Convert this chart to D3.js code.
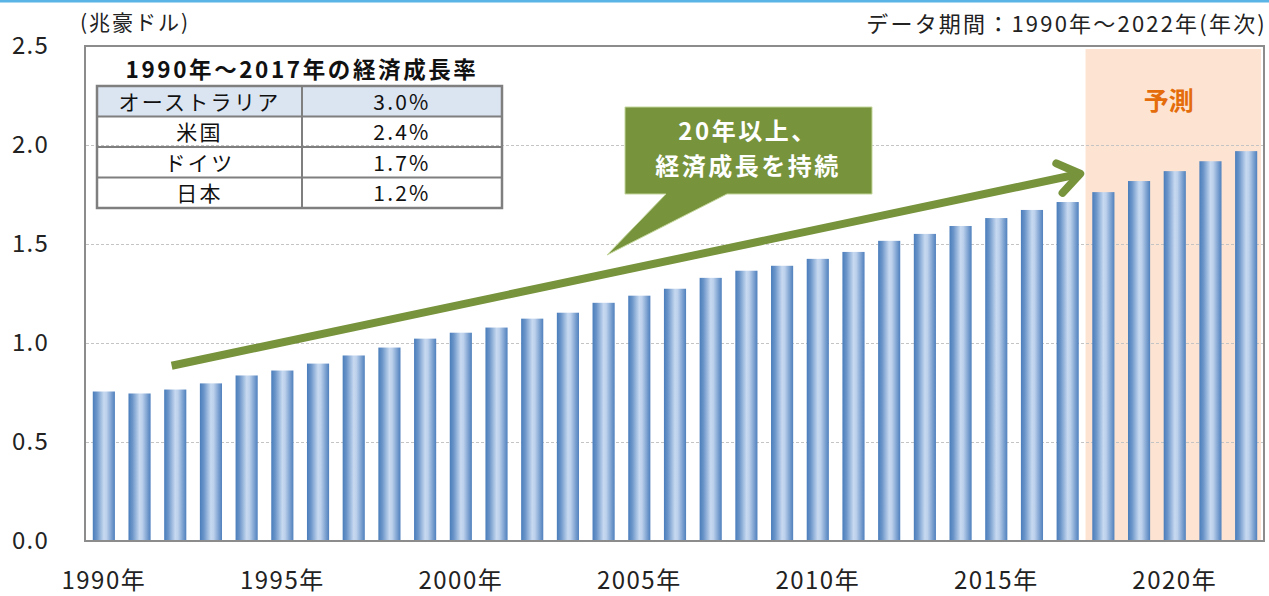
<!DOCTYPE html>
<html><head><meta charset="utf-8">
<script src="https://cdn.jsdelivr.net/npm/d3@7"></script>
<style>
html,body{margin:0;padding:0;background:#fff;}
svg{display:block;font-family:"Noto Sans CJK JP","Noto Sans",sans-serif;}
</style></head>
<body>
<svg id="chart" width="1269" height="596"></svg>
<script>
// ---- data ----
const years = d3.range(1990, 2023);
const gdp = [0.755,0.745,0.765,0.796,0.836,0.861,0.896,0.937,0.977,1.022,1.052,1.078,1.123,1.153,1.203,1.239,1.274,1.329,1.365,1.390,1.425,1.460,1.516,1.551,1.591,1.631,1.672,1.712,1.762,1.818,1.868,1.918,1.969];
const yTicks = [0, 0.5, 1.0, 1.5, 2.0, 2.5];
const xTickYears = [1990, 1995, 2000, 2005, 2010, 2015, 2020];
const forecastStart = 2018;
const tableTitle = "1990年～2017年の経済成長率";
const tableCountries = ["オーストラリア", "米国", "ドイツ", "日本"];
const tableRates = ["3.0%", "2.4%", "1.7%", "1.2%"];
const calloutLines = ["20年以上、", "経済成長を持続"];
const unitLabel = "(兆豪ドル)";
const periodLabel = "データ期間：1990年～2022年(年次)";
const forecastLabel = "予測";

// ---- layout ----
const svg = d3.select("#chart");
const L = 86, R = 1264, T = 46, B = 541;

const x = d3.scaleBand().domain(years).range([L, R]).paddingInner(0.38).paddingOuter(0.19);
const y = d3.scaleLinear().domain([0, 2.5]).range([B, T]);
const gap = x.step() - x.bandwidth();

// top blue rule
svg.append("rect").attr("x", 0).attr("y", 0).attr("width", 1269).attr("height", 2.5).attr("fill", "#5ab4e6");

// gradient
const defs = svg.append("defs");
const grad = defs.append("linearGradient").attr("id", "barGrad").attr("x1", "0%").attr("x2", "100%").attr("y1", "0%").attr("y2", "0%");
[[0, "#4a7dbb"], [0.18, "#6b95c9"], [0.5, "#c7d9f0"], [0.62, "#bdd1ec"], [1, "#4f80bd"]].forEach(([o, c]) =>
  grad.append("stop").attr("offset", o).attr("stop-color", c));

// forecast band
const fx0 = x(forecastStart) - gap / 2;
svg.append("rect").attr("x", fx0).attr("y", T + 3).attr("width", R - 3 - fx0).attr("height", B - T - 3)
  .attr("fill", "#fde4d2");

// gridlines
svg.append("g").selectAll("line").data(yTicks.filter(t => t > 0 && t < 2.5)).join("line")
  .attr("x1", L).attr("x2", R).attr("y1", d => Math.round(y(d)) + 0.5).attr("y2", d => Math.round(y(d)) + 0.5)
  .attr("stroke", "#c4c4c4").attr("stroke-width", 1).attr("stroke-dasharray", "3,2");

// bars
svg.append("g").selectAll("rect").data(years).join("rect")
  .attr("x", d => x(d)).attr("width", x.bandwidth())
  .attr("y", (d, i) => y(gdp[i])).attr("height", (d, i) => B - y(gdp[i]))
  .attr("fill", "url(#barGrad)");

// frame
svg.append("rect").attr("x", L - 1).attr("y", T).attr("width", R - L + 1).attr("height", B - T)
  .attr("fill", "none").attr("stroke", "#8c8c8c").attr("stroke-width", 2);

// y axis labels
const yAxis = d3.axisLeft(y).tickValues(yTicks).tickFormat(d3.format(".1f")).tickSize(0).tickPadding(0);
const gy = svg.append("g").attr("transform", `translate(49,0)`).call(yAxis);
gy.select(".domain").remove();
gy.selectAll("text").attr("font-size", 24).attr("letter-spacing", "1.2px").attr("fill", "#222")
  .attr("font-family", "'Noto Sans CJK JP',sans-serif");

// x axis labels
const xAxis = d3.axisBottom(x).tickValues(xTickYears).tickFormat(d => d + "年").tickSize(0).tickPadding(0);
const gx = svg.append("g").attr("transform", `translate(0,${B + 31})`).call(xAxis);
gx.select(".domain").remove();
gx.selectAll("text").attr("font-size", 24).attr("letter-spacing", "1.5px").attr("fill", "#222").attr("dy", "0.71em")
  .attr("font-family", "'Noto Sans CJK JP',sans-serif");

// header texts
svg.append("text").attr("x", 80).attr("y", 30).attr("font-size", 21).attr("letter-spacing", "2px").attr("fill", "#222").text(unitLabel);
svg.append("text").attr("x", 1267).attr("y", 32).attr("text-anchor", "end").attr("font-size", 22).attr("letter-spacing", "2.2px")
  .attr("fill", "#222").text(periodLabel);

// forecast label
svg.append("text").attr("x", (fx0 + R) / 2 - 6).attr("y", 110).attr("text-anchor", "middle").attr("font-size", 25)
  .attr("font-weight", "bold").attr("fill", "#e46c0a").text(forecastLabel);

// table
const tb = { x0: 97, xm: 302, x1: 502, top: 86, rh: 30.5 };
svg.append("text").attr("x", 302).attr("y", 78).attr("text-anchor", "middle").attr("font-size", 22.5).attr("letter-spacing", "2.6px")
  .attr("font-weight", "bold").attr("fill", "#111").text(tableTitle);
const tg = svg.append("g");
tg.append("rect").attr("x", tb.x0).attr("y", tb.top).attr("width", tb.x1 - tb.x0).attr("height", tb.rh).attr("fill", "#dbe5f1");
tg.selectAll(".c1").data(tableCountries).join("text")
  .attr("x", (tb.x0 + tb.xm) / 2).attr("y", (d, i) => tb.top + tb.rh * (i + 0.5) + 8.5)
  .attr("text-anchor", "middle").attr("font-size", 21).attr("letter-spacing", "2.3px").attr("fill", "#111").text(d => d);
tg.selectAll(".c2").data(tableRates).join("text")
  .attr("x", (tb.xm + tb.x1) / 2).attr("y", (d, i) => tb.top + tb.rh * (i + 0.5) + 8.5)
  .attr("text-anchor", "middle").attr("font-size", 21).attr("letter-spacing", "2.2px").attr("fill", "#111").text(d => d);
tg.selectAll(".hl").data(d3.range(1, tableCountries.length)).join("line")
  .attr("x1", tb.x0).attr("x2", tb.x1).attr("y1", d => tb.top + tb.rh * d).attr("y2", d => tb.top + tb.rh * d)
  .attr("stroke", "#7f7f7f").attr("stroke-width", 2);
tg.append("line").attr("x1", tb.xm).attr("x2", tb.xm).attr("y1", tb.top).attr("y2", tb.top + tb.rh * 4)
  .attr("stroke", "#7f7f7f").attr("stroke-width", 2);
tg.append("rect").attr("x", tb.x0).attr("y", tb.top).attr("width", tb.x1 - tb.x0).attr("height", tb.rh * 4)
  .attr("fill", "none").attr("stroke", "#7f7f7f").attr("stroke-width", 2.5);

// trend arrow (anchored on scales)
const xc = yr => x(Math.floor(yr)) + x.bandwidth() / 2 + (yr - Math.floor(yr)) * x.step();
const p0 = [xc(1991.9), y(0.885)], p1 = [xc(2017.35), y(1.855)];
const green = "#77933c";
svg.append("line").attr("x1", p0[0]).attr("y1", p0[1]).attr("x2", p1[0] - 6).attr("y2", p1[1] + 1.3)
  .attr("stroke", green).attr("stroke-width", 8);
const ang = Math.atan2(p1[1] - p0[1], p1[0] - p0[0]);
const al = 26, aa = 0.62;
const a1 = [p1[0] - al * Math.cos(ang - aa), p1[1] - al * Math.sin(ang - aa)];
const a2 = [p1[0] - al * Math.cos(ang + aa), p1[1] - al * Math.sin(ang + aa)];
svg.append("path").attr("d", `M${a1}L${p1}L${a2}`).attr("fill", "none").attr("stroke", green)
  .attr("stroke-width", 8).attr("stroke-linecap", "round").attr("stroke-linejoin", "round");

// callout
svg.append("path").attr("d", "M625,107 H872 V194 H727 L607,255 L666,194 H625 Z").attr("fill", "#77933c")
  .attr("stroke", "#c3d69b").attr("stroke-width", 1);
svg.append("g").selectAll("text").data(calloutLines).join("text")
  .attr("x", 748).attr("y", (d, i) => 140 + i * 35).attr("text-anchor", "middle").attr("font-size", 24)
  .attr("letter-spacing", "2.5px").attr("font-weight", "bold").attr("fill", "#fff").text(d => d);
</script>
</body></html>
